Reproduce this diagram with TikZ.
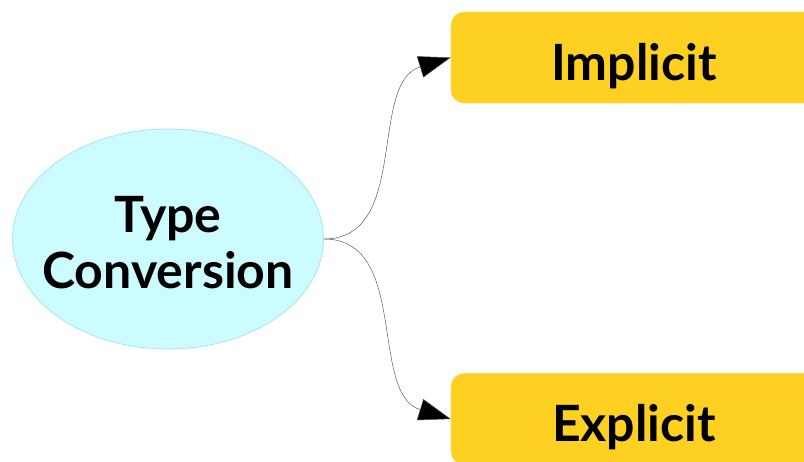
\documentclass[tikz,border=0pt]{standalone}
\usepackage{fontspec}
\setmainfont{Lato}
\usetikzlibrary{shapes.geometric,arrows.meta}
\definecolor{ellfill}{HTML}{CCFCFF}
\definecolor{elldraw}{HTML}{A8E6EE}
\definecolor{boxfill}{HTML}{FDD022}
\definecolor{boxdraw}{HTML}{FBDA6A}
\definecolor{linecol}{HTML}{505050}
\tikzset{
  rootnode/.style={ellipse, fill=ellfill, draw=elldraw, line width=0.8pt,
    minimum width=311pt, minimum height=220pt, inner sep=0pt},
  roottext/.style={inner sep=0pt, anchor=base, font=\fontsize{50}{56}\selectfont\bfseries},
  leafbox/.style={rectangle, rounded corners=13pt, fill=boxfill, draw=boxdraw, line width=0.6pt,
    minimum width=366pt, minimum height=91pt, inner sep=0pt,
    text height=56pt, text depth=11pt,
    font=\fontsize{50}{56}\selectfont\bfseries},
  link/.style={draw=linecol, line width=0.45pt, -{Triangle[length=32pt,width=22pt,fill=black]}}
}
\begin{document}
\begin{tikzpicture}[x=1pt,y=-1pt]
\useasboundingbox (0,0) rectangle (804,461);
\clip (0,0) rectangle (804,461);
\node[rootnode] (tc) at (168,239) {};
\node[roottext] (tc1) at (168,232) {Type};
\node[roottext] (tc2) at (168,288) {Conversion};
\node[leafbox] (imp) at (634,57.5) {Implicit};
\node[leafbox] (exp) at (634,419) {Explicit};
\draw[link] (tc.east) to[out=0,in=197] (imp.west);
\draw[link] (tc.east) to[out=0,in=163] (exp.west);
\end{tikzpicture}
\end{document}
